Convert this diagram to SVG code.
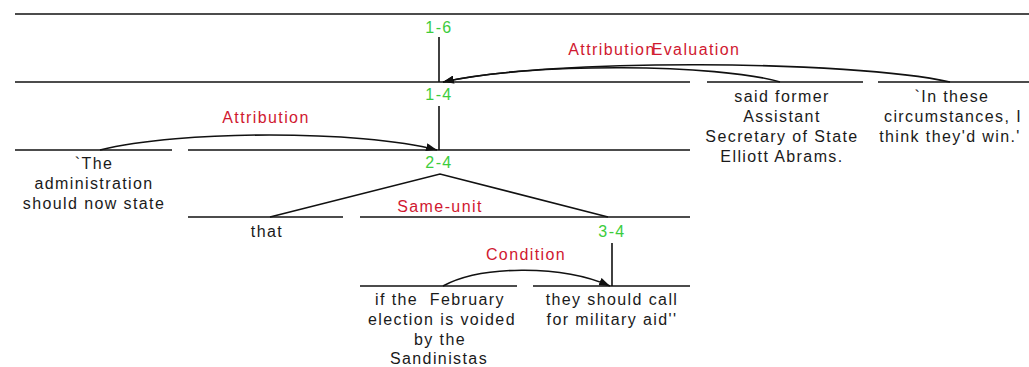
<svg xmlns="http://www.w3.org/2000/svg" width="1029" height="367" viewBox="0 0 1029 367">
<style>
.t{font-family:"Liberation Sans",Arial,sans-serif;font-size:16px;letter-spacing:1.4px;fill:#1a1a1a;text-anchor:middle}
.g{font-family:"Liberation Sans",Arial,sans-serif;font-size:16px;letter-spacing:1.4px;fill:#3ccc3c;text-anchor:middle}
.r{font-family:"Liberation Sans",Arial,sans-serif;font-size:16px;letter-spacing:1.4px;fill:#d01830;text-anchor:middle}
.l{stroke:#111;stroke-width:1.6;fill:none}
.a{stroke:#111;stroke-width:1.6;fill:none;marker-end:url(#arr)}
</style>
<defs>
<marker id="arr" markerUnits="userSpaceOnUse" markerWidth="12" markerHeight="8" refX="11" refY="4" orient="auto">
<path d="M0,0 L11,4 L0,8 z" fill="#111"/>
</marker>
</defs>
<g id="root-span">
<line class="l" x1="15" y1="14" x2="1029" y2="14"/>
</g>
<g id="n1-6">
<text class="g" x="439" y="33">1-6</text>
<line class="l" x1="439" y1="37" x2="439" y2="82"/>
<line class="l" x1="15" y1="82" x2="690" y2="82"/>
</g>
<g id="n1-4">
<text class="g" x="439" y="100">1-4</text>
<line class="l" x1="439" y1="106" x2="439" y2="150"/>
<line class="l" x1="188" y1="150" x2="690" y2="150"/>
</g>
<g id="n2-4">
<text class="g" x="439" y="168">2-4</text>
</g>
<g id="n3-4">
<text class="g" x="612" y="237">3-4</text>
<line class="l" x1="612" y1="243" x2="612" y2="286"/>
<line class="l" x1="360" y1="217" x2="690" y2="217"/>
</g>
<g id="leaf-said">
<line class="l" x1="707" y1="82" x2="863" y2="82"/>
<text class="t" x="782" y="102">said former</text>
<text class="t" x="782" y="122">Assistant</text>
<text class="t" x="782" y="142">Secretary of State</text>
<text class="t" x="782" y="162">Elliott Abrams.</text>
</g>
<g id="leaf-circumstances">
<line class="l" x1="878" y1="82" x2="1029" y2="82"/>
<text class="t" x="952" y="102">`In these</text>
<text class="t" x="953" y="122">circumstances, I</text>
<text class="t" x="950" y="142">think they'd win.'</text>
</g>
<g id="leaf-administration">
<line class="l" x1="15" y1="150" x2="172" y2="150"/>
<text class="t" x="94" y="169">`The</text>
<text class="t" x="94" y="189">administration</text>
<text class="t" x="94" y="209">should now state</text>
</g>
<g id="leaf-that">
<line class="l" x1="188" y1="217" x2="343" y2="217"/>
<text class="t" x="267" y="237">that</text>
</g>
<g id="leaf-if">
<line class="l" x1="360" y1="286" x2="517" y2="286"/>
<text class="t" x="440" y="305" xml:space="preserve">if the  February</text>
<text class="t" x="442" y="325">election is voided</text>
<text class="t" x="440" y="344.5">by the</text>
<text class="t" x="439" y="364">Sandinistas</text>
</g>
<g id="leaf-they">
<line class="l" x1="533" y1="286" x2="690" y2="286"/>
<text class="t" x="612" y="305">they should call</text>
<text class="t" x="612" y="325">for military aid''</text>
</g>
<g id="connectors">
<path class="a" d="M950,82 C850,60 550,58 443,82"/>
<path class="a" d="M780,82 C720,64 530,62 443,82"/>
<text class="r" x="612" y="55">Attribution</text>
<text class="r" x="696" y="55">Evaluation</text>
<path class="a" d="M100,150 C180,130 360,130 437,150"/>
<text class="r" x="266" y="123">Attribution</text>
<polyline class="l" points="270,217 440,174 608,217"/>
<text class="r" x="440" y="212">Same-unit</text>
<path class="a" d="M443,286 C480,266 560,264 610,286"/>
<text class="r" x="526" y="260">Condition</text>
</g>
</svg>
